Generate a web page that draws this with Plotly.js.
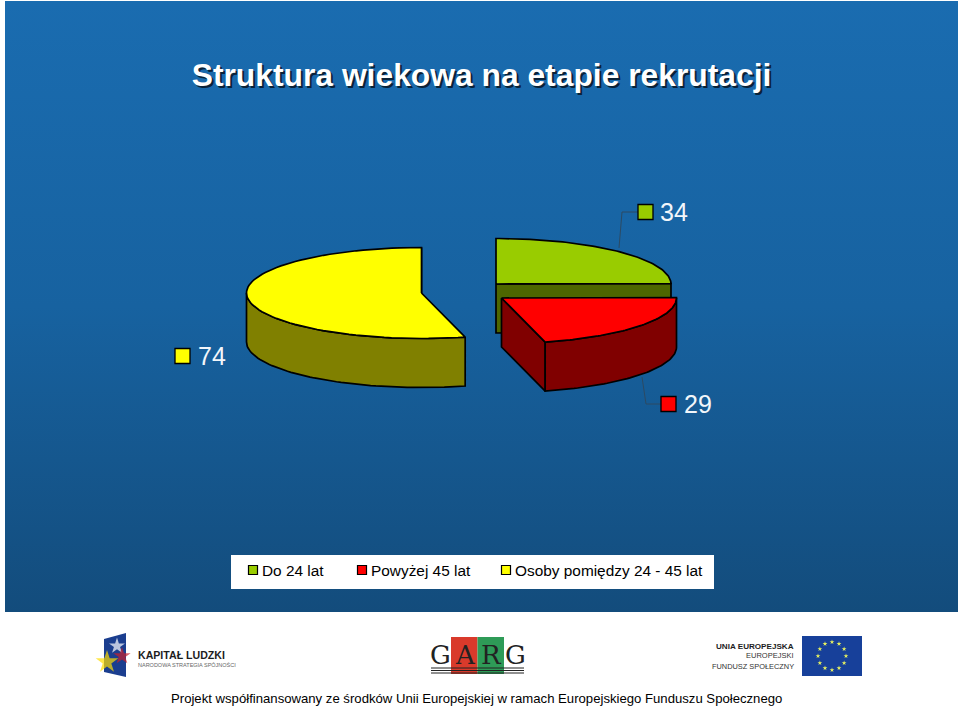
<!DOCTYPE html>
<html><head><meta charset="utf-8">
<script src="https://cdn.plot.ly/plotly-3.0.1.min.js"></script>
<style>html,body{margin:0;padding:0;background:#fff}#c{width:960px;height:706px}</style>
</head><body><div id="c"></div>
<script>
// ---- data ----
const categories = ['Do 24 lat', 'Powyżej 45 lat', 'Osoby pomiędzy 24 - 45 lat'];
const values = [34, 29, 74];
const topColors = ['#99CC00', '#FF0000', '#FFFF00'];
const wallColors = ['#4D6600', '#800000', '#808000'];
const chartTitle = 'Struktura wiekowa na etapie rekrutacji';
const footerText = 'Projekt współfinansowany ze środków Unii Europejskiej w ramach Europejskiego Funduszu Społecznego';

// ---- pie geometry (exploded 3-D view) ----
const RX = 175, RY = 45.5, DEPTH = 49;
const centers = [[496, 284], [501.5, 298], [421.5, 293]];
const drawOrder = [0, 2, 1];
const labelPos = [[653, 212, 674], [676, 404, 698], [190, 356, 212]];
const total = values.reduce((a, b) => a + b, 0);

const traces = [];
const base = {type: 'scatter', hoverinfo: 'skip', showlegend: false};

// background slide
traces.push(Object.assign({}, base, {
  x: [5, 958, 958, 5, 5], y: [1, 1, 612, 612, 1], mode: 'none', fill: 'toself',
  fillgradient: {type: 'vertical', colorscale: [[0, '#134C7C'], [0.5, '#1762A0'], [1, '#1A6CB0']]}
}));

function pt(c, deg, dy) {
  const r = deg * Math.PI / 180;
  return [c[0] + RX * Math.sin(r), c[1] - RY * Math.cos(r) + (dy || 0)];
}
function poly(points, fill) {
  traces.push(Object.assign({}, base, {
    x: points.map(p => p[0]), y: points.map(p => p[1]), mode: 'lines', fill: 'toself',
    fillcolor: fill, line: {color: '#000', width: 1.7}
  }));
}
let cum = 0;
const spans = values.map(v => { const s = [cum, cum + v / total * 360]; cum = s[1]; return s; });

drawOrder.forEach(i => {
  const c = centers[i], a0 = spans[i][0], a1 = spans[i][1];
  // radial face at end of slice
  const e = pt(c, a1);
  poly([[c[0], c[1]], e, [e[0], e[1] + DEPTH], [c[0], c[1] + DEPTH], [c[0], c[1]]], wallColors[i]);
  // outer wall, visible part only (front half)
  const w0 = Math.max(a0, 90), w1 = Math.min(a1, 270);
  if (w1 > w0) {
    const up = [], dn = [];
    for (let k = 0; k <= 60; k++) {
      const a = w0 + (w1 - w0) * k / 60;
      up.push(pt(c, a)); dn.unshift(pt(c, a, DEPTH));
    }
    poly(up.concat(dn, [up[0]]), wallColors[i]);
  }
  // top face
  const top = [[c[0], c[1]]];
  for (let k = 0; k <= 80; k++) top.push(pt(c, a0 + (a1 - a0) * k / 80));
  top.push([c[0], c[1]]);
  poly(top, topColors[i]);
});

// leader lines
[[[638, 622, 619], [212, 212, 248]], [[642, 646, 662], [377, 404, 404]]].forEach(l => {
  traces.push(Object.assign({}, base, {x: l[0], y: l[1], mode: 'lines', line: {color: '#2C4A63', width: 1}}));
});

// data label keys
traces.push(Object.assign({}, base, {
  x: labelPos.map(p => p[0] - 7.5), y: labelPos.map(p => p[1]),
  mode: 'markers',
  marker: {symbol: 'square', size: 15, color: topColors, line: {color: '#000', width: 1.3}}
}));

// legend box
traces.push(Object.assign({}, base, {
  x: [231, 714, 714, 231, 231], y: [555, 555, 589, 589, 555], mode: 'none', fill: 'toself', fillcolor: '#fff'
}));
const legX = [253, 362, 506], legTextX = [262, 371, 515];
traces.push(Object.assign({}, base, {
  x: legX, y: [570, 570, 570], mode: 'markers',
  marker: {symbol: 'square', size: 9, color: topColors, line: {color: '#000', width: 1.2}}
}));

// logo stars
traces.push(Object.assign({}, base, {
  x: [117, 122, 107], y: [646, 656, 662], mode: 'markers',
  marker: {symbol: 'star', size: [12, 13, 17], color: ['#FFFFFF', '#C8202C', '#FFDD00'], line: {width: 0}}
}));
const euA = [0, 30, 60, 90, 120, 150, 180, 210, 240, 270, 300, 330];
traces.push(Object.assign({}, base, {
  x: euA.map(a => 832 + 14 * Math.sin(a * Math.PI / 180)),
  y: euA.map(a => 656 - 14 * Math.cos(a * Math.PI / 180)),
  mode: 'markers', marker: {symbol: 'star', size: 3.6, color: '#E6F060', line: {width: 0}}
}));

const F = 'Liberation Sans, Arial, sans-serif';
const ann = [];
function txt(text, x, y, size, color, anchor, extra) {
  ann.push(Object.assign({text, x, y, xref: 'x', yref: 'y', showarrow: false, xanchor: anchor || 'left', yanchor: 'middle',
    borderpad: 0, font: {family: F, size, color}}, extra || {}));
}
values.forEach((v, i) => txt(String(v), labelPos[i][2], labelPos[i][1], 25, '#F2F6FA', 'center'));
categories.forEach((c, i) => txt(c, legTextX[i] - 1, 570, 15.4, '#000'));
txt(footerText, 170, 698, 13.15, '#000');
// logo texts
txt('<b>KAPITAŁ LUDZKI</b>', 137, 655, 10.6, '#1d1d1d');
txt('NARODOWA STRATEGIA SPÓJNOŚCI', 137, 664.5, 5.5, '#666');
['G', 'A', 'R', 'G'].forEach((g, i) => {
  ann.push({text: g, x: [440, 465, 491, 515][i], y: 655, xref: 'x', yref: 'y', showarrow: false,
    font: {family: 'DejaVu Serif, serif', size: 26, color: '#222'}});
});
txt('<b>UNIA EUROPEJSKA</b>', 795, 646, 8.1, '#1d1d1d', 'right');
txt('EUROPEJSKI', 795, 655.5, 7.5, '#333', 'right');
txt('FUNDUSZ SPOŁECZNY', 795, 666, 7.4, '#333', 'right');

const shapes = [
  {type: 'path', path: 'M104,639 L126,633 L126,677 L104,672 Z', fillcolor: '#1B3E8F', line: {width: 0}, layer: 'below'},
  {type: 'rect', x0: 451, x1: 477.5, y0: 637, y1: 674, fillcolor: '#D93A2B', line: {width: 0}, layer: 'below'},
  {type: 'rect', x0: 477.5, x1: 504, y0: 637, y1: 674, fillcolor: '#2E9B57', line: {width: 0}, layer: 'below'},
  {type: 'rect', x0: 802, x1: 862, y0: 636, y1: 676, fillcolor: '#17409A', line: {width: 0}, layer: 'below'}
];
[668, 670.5, 673].forEach(y => shapes.push({type: 'line', x0: 431, x1: 524, y0: y, y1: y, line: {color: '#222', width: 1.1}}));

const ax = {visible: false, fixedrange: true, showgrid: false, zeroline: false};
const layout = {
  width: 960, height: 706, margin: {l: 0, r: 0, t: 0, b: 0},
  paper_bgcolor: '#fff', plot_bgcolor: 'rgba(0,0,0,0)', showlegend: false,
  xaxis: Object.assign({range: [0, 960]}, ax),
  yaxis: Object.assign({range: [706, 0]}, ax),
  title: {text: '<b>' + chartTitle + '</b>', x: 0.5016, xanchor: 'center', y: 0.8935, yanchor: 'middle',
    font: {family: F, size: 31.8, color: '#fff', shadow: '2px 2px 0 #0a2238'}},
  annotations: ann, shapes
};
Plotly.newPlot('c', traces, layout, {displayModeBar: false, staticPlot: true});
</script></body></html>
